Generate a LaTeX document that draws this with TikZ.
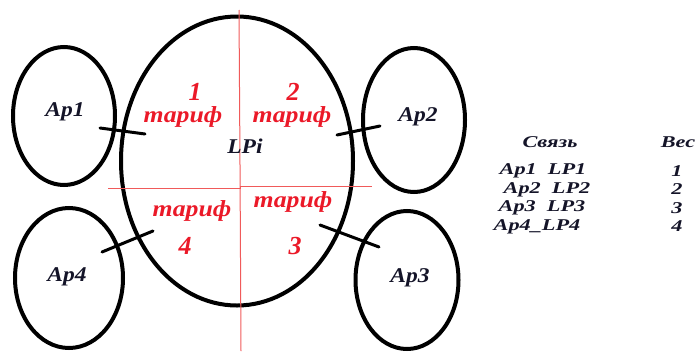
\documentclass[tikz,border=0pt]{standalone}
\usepackage{fontspec}
\setmainfont{Liberation Serif}
\newfontfamily\widefont[FakeStretch=1.12]{Liberation Serif}
\newfontfamily\tabfont[FakeStretch=1.35]{Liberation Serif}
\usetikzlibrary{shapes.geometric}
\definecolor{txtred}{RGB}{235,25,40}
\definecolor{linered}{RGB}{240,90,90}
\definecolor{txtdark}{RGB}{20,20,40}
\tikzset{
  oval/.style={draw=black, line width=4pt, ellipse, inner sep=0pt},
  link/.style={draw=black, line width=3pt, line cap=round},
  divider/.style={draw=linered, line width=1pt},
  lbl/.style={inner sep=0pt, font=\widefont\fontsize{21}{21}\selectfont\bfseries\itshape, text=txtdark},
  tarif/.style={inner sep=0pt, font=\widefont\fontsize{23}{23}\selectfont\bfseries\itshape, text=txtred},
  num/.style={inner sep=0pt, font=\fontsize{26}{26}\selectfont\bfseries\itshape, text=txtred},
  tab/.style={inner sep=0pt, font=\tabfont\fontsize{16.5}{16.5}\selectfont\bfseries\itshape, text=txtdark}
}
\begin{document}
\begin{tikzpicture}[x=1pt, y=-1pt]
\useasboundingbox (0,0) rectangle (699,351);
% big ellipse
\node[oval, minimum width=232pt, minimum height=289pt] (lp) at (237,161) {};
% small ellipses
\node[oval, minimum width=102pt, minimum height=138pt] (ap1) at (64,116) {};
\node[oval, minimum width=102pt, minimum height=144pt] (ap2) at (414,120) {};
\node[oval, minimum width=103pt, minimum height=138pt] (ap3) at (407,280) {};
\node[oval, minimum width=108pt, minimum height=140pt] (ap4) at (69,278) {};
% red dividers
\coordinate (vtop) at (239,10);
\coordinate (vmid) at (240,165);
\coordinate (vbot) at (241,351);
\coordinate (hl) at (108,188);
\coordinate (hr) at (372,186);
\draw[divider] (vtop) -- (vmid) -- (vbot);
\draw[divider] (hl) -- (240,188) -- (240,186) -- (hr);
% connectors
\coordinate (c1a) at (100,128); \coordinate (c1b) at (145,134);
\coordinate (c2a) at (337,135); \coordinate (c2b) at (380,126);
\coordinate (c3a) at (320,225); \coordinate (c3b) at (379,247);
\coordinate (c4a) at (102,252); \coordinate (c4b) at (153,231);
\draw[link] (c1a) -- (c1b);
\draw[link] (c2a) -- (c2b);
\draw[link] (c3a) -- (c3b);
\draw[link] (c4a) -- (c4b);
% labels
\node[lbl] (t1) at (65,112) {Ap1};
\node[lbl] (t2) at (418,117) {Ap2};
\node[lbl] (t3) at (410,278) {Ap3};
\node[lbl] (t4) at (67,277) {Ap4};
\node[lbl] (tlp) at (245,146) {LPi};
\node[num] (n1) at (195,92) {1};
\node[num] (n2) at (293,92) {2};
\node[num] (n3) at (295,246) {3};
\node[num] (n4) at (185,246) {4};
\node[tarif] (r1) at (183,117) {тариф};
\node[tarif] (r2) at (292,117) {тариф};
\node[tarif] (r3) at (293,202) {тариф};
\node[tarif] (r4) at (192,211) {тариф};
% table
\node[tab] (h1) at (550,142) {Связь};
\node[tab] (h2) at (678,142) {Вес};
\node[tab] (a1) at (543,171) {Ap1\ \ LP1};
\node[tab] (a2) at (547,189.5) {Ap2\ \ LP2};
\node[tab] (a3) at (542,208) {Ap3\ \ LP3};
\node[tab] (a4) at (537,226.5) {Ap4\_LP4};
\node[tab] (w1) at (677,171) {1};
\node[tab] (w2) at (677,189.5) {2};
\node[tab] (w3) at (677,208) {3};
\node[tab] (w4) at (677,226.5) {4};
\end{tikzpicture}
\end{document}
